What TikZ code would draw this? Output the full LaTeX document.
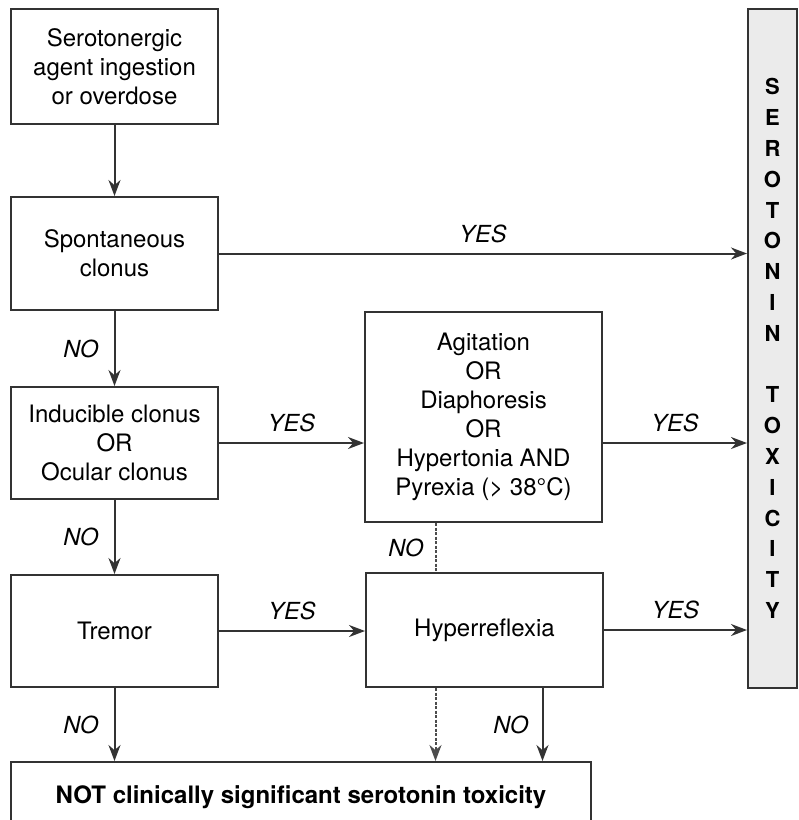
\documentclass[tikz,border=0pt]{standalone}
\usepackage{fontspec}
\setmainfont{TeX Gyre Heros}
\usetikzlibrary{arrows.meta,positioning,calc}

\begin{document}
\begin{tikzpicture}[x=1pt,y=-1pt,
  box/.style={draw=black!80,line width=2pt,align=center,inner sep=0pt,
    font=\fontsize{24}{29}\selectfont},
  arr/.style={draw=black!80,line width=2pt,-{Stealth[length=16pt,width=12pt]}},
  dots/.style={dash pattern=on 3pt off 1.5pt,line width=2pt,draw=black!70},
  ans/.style={inner sep=2pt,font=\itshape\fontsize{23.5}{29}\selectfont}]
\useasboundingbox (0,0) rectangle (799,820);
% decision boxes
\node[box,minimum width=207pt,minimum height=115pt] (ingest) at (114.5,66.5) {Serotonergic\\agent ingestion\\or overdose};
\node[box,minimum width=207pt,minimum height=113pt] (spont) at (114.5,253.5) {Spontaneous\\clonus};
\node[box,minimum width=207pt,minimum height=112pt] (induc) at (114.5,443) {Inducible clonus\\OR\\Ocular clonus};
\node[box,minimum width=207pt,minimum height=112pt] (tremor) at (114.5,631) {Tremor};
\node[box,minimum width=237pt,minimum height=210pt] (agit) at (483.5,417) {Agitation\\OR\\Diaphoresis\\OR\\Hypertonia AND\\Pyrexia (> 38°C)};
\node[box,minimum width=237pt,minimum height=114pt] (hyper) at (484.5,630) {Hyperreflexia};
\node[box,minimum width=580pt,minimum height=70pt,font=\bfseries\fontsize{24}{29}\selectfont] (notsig) at (301,797) {NOT clinically significant serotonin toxicity};
\node[box,fill=black!8,minimum width=49pt,minimum height=679pt,font=\bfseries\fontsize{22}{30.8}\selectfont] (tox) at (772.5,348.5) {S\\E\\R\\O\\T\\O\\N\\I\\N\\\mbox{}\\T\\O\\X\\I\\C\\I\\T\\Y};
% connectors
\draw[arr] (ingest) -- (spont);
\draw[arr] (spont) -- (spont -| tox.west) node[ans,midway,above=8pt]{YES};
\draw[arr] (spont) -- (induc) node[ans,midway,left=13pt]{NO};
\draw[arr] (induc.east) -- (induc.east -| agit.west) node[ans,midway,above=8pt]{YES};
\draw[arr] (agit.east |- induc.east) -- (induc.east -| tox.west) node[ans,midway,above=8pt]{YES};
\draw[arr] (induc) -- (tremor) node[ans,midway,left=13pt]{NO};
\draw[arr] (tremor.east) -- (tremor.east -| hyper.west) node[ans,midway,above=8pt]{YES};
\draw[arr] (hyper.east) -- (hyper.east -| tox.west) node[ans,midway,above=8pt]{YES};
\draw[arr] (tremor) -- (tremor |- notsig.north) node[ans,midway,left=13pt]{NO};
\coordinate (dline) at ([xshift=-48pt]agit.south);
\draw[dots] (dline) -- (dline |- hyper.north) node[ans,midway,left=9pt]{NO};
\draw[arr,dots] (dline |- hyper.south) -- (dline |- notsig.north);
\coordinate (nline) at ([xshift=58pt]hyper.south);
\draw[arr] (nline) -- (nline |- notsig.north) node[ans,midway,left=11pt]{NO};
\end{tikzpicture}
\end{document}
